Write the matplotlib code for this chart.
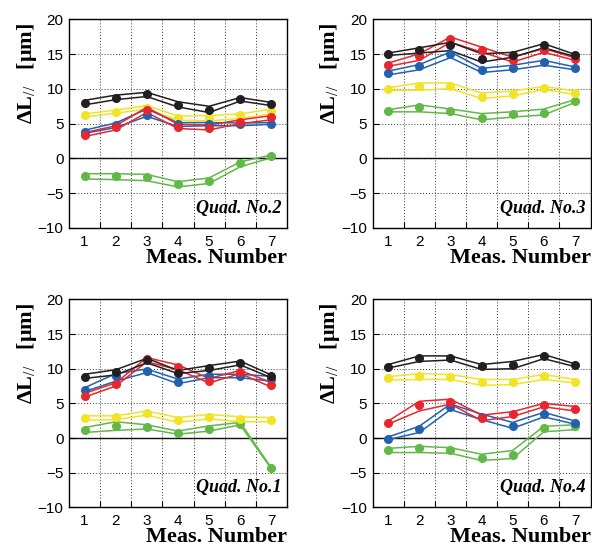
import matplotlib
matplotlib.use("Agg")
import matplotlib.pyplot as plt

plt.rcParams['font.family'] = ['Liberation Sans', 'DejaVu Sans']
plt.rcParams['mathtext.fontset'] = 'custom'
plt.rcParams['mathtext.rm'] = 'Liberation Serif'
plt.rcParams['mathtext.it'] = 'Liberation Serif:italic'
plt.rcParams['mathtext.bf'] = 'Liberation Serif:bold'

meas = [1, 2, 3, 4, 5, 6, 7]
x_labels = ["1", "2", "3", "4", "5", "6", "7"]
y_ticks = [-10, -5, 0, 5, 10, 15, 20]

# ---- Quad. No.2 ----
q2_black_pts = [7.9, 8.75, 9.2, 7.7, 7.0, 8.55, 7.8]
q2_black_hi = [8.35, 9.1, 9.5, 8.15, 7.5, 8.75, 8.05]
q2_black_lo = [7.7, 8.45, 8.9, 7.4, 6.6, 8.25, 7.6]
q2_red_pts = [3.4, 4.45, 6.9, 4.45, 4.35, 5.3, 5.9]
q2_red_hi = [3.7, 4.7, 7.35, 4.9, 4.8, 5.55, 6.15]
q2_red_lo = [3.15, 4.1, 6.6, 4.3, 4.1, 5.0, 5.55]
q2_blue_pts = [3.8, 4.8, 6.3, 4.9, 4.9, 4.9, 5.0]
q2_blue_hi = [4.05, 5.1, 7.1, 5.15, 5.15, 5.1, 5.15]
q2_blue_lo = [3.6, 4.45, 6.05, 4.6, 4.7, 4.7, 4.9]
q2_yellow_pts = [6.2, 6.7, 7.3, 5.85, 5.75, 6.2, 6.85]
q2_yellow_hi = [6.4, 6.95, 7.6, 6.1, 6.15, 6.4, 7.1]
q2_yellow_lo = [5.95, 6.5, 7.1, 5.5, 5.4, 5.75, 6.4]
q2_green_pts = [-2.5, -2.5, -2.7, -3.65, -3.3, -0.7, 0.35]
q2_green_hi = [-2.2, -2.2, -2.3, -3.35, -2.8, -0.5, 0.5]
q2_green_lo = [-2.95, -3.05, -3.2, -4.1, -3.6, -1.2, 0.1]

# ---- Quad. No.3 ----
q3_black_pts = [15.0, 15.6, 16.25, 14.3, 14.85, 16.25, 14.85]
q3_black_hi = [15.15, 15.9, 16.7, 15.05, 15.25, 16.5, 14.95]
q3_black_lo = [14.8, 15.15, 15.5, 13.85, 14.55, 15.9, 14.65]
q3_red_pts = [13.45, 14.75, 17.1, 15.6, 14.2, 15.55, 14.3]
q3_red_hi = [13.7, 15.05, 17.45, 16.0, 14.55, 15.8, 14.45]
q3_red_lo = [13.25, 14.1, 16.7, 15.3, 13.85, 15.25, 14.1]
q3_blue_pts = [12.25, 13.3, 14.95, 12.65, 13.05, 13.8, 12.95]
q3_blue_hi = [12.55, 13.5, 15.3, 12.95, 13.4, 14.1, 13.15]
q3_blue_lo = [12.0, 12.75, 14.5, 12.35, 12.75, 13.4, 12.75]
q3_yellow_pts = [9.95, 10.45, 10.45, 8.9, 9.3, 10.15, 9.4]
q3_yellow_hi = [10.15, 10.85, 10.85, 9.4, 9.7, 10.35, 9.7]
q3_yellow_lo = [9.8, 9.8, 10.05, 8.6, 9.0, 9.9, 9.2]
q3_green_pts = [6.85, 7.4, 6.75, 5.85, 6.4, 6.6, 8.25]
q3_green_hi = [7.0, 7.7, 7.1, 6.45, 6.7, 7.1, 8.45]
q3_green_lo = [6.7, 6.7, 6.45, 5.55, 5.95, 6.25, 8.05]

# ---- Quad. No.1 ----
q1_black_pts = [8.75, 9.55, 11.25, 9.4, 10.15, 10.85, 8.9]
q1_black_hi = [9.2, 9.85, 11.5, 9.75, 10.45, 11.1, 9.1]
q1_black_lo = [8.6, 9.1, 10.85, 9.3, 9.75, 10.55, 8.7]
q1_red_pts = [6.1, 7.75, 11.35, 10.25, 8.2, 9.55, 7.6]
q1_red_hi = [6.45, 7.95, 11.6, 10.55, 8.6, 9.75, 8.0]
q1_red_lo = [5.9, 7.5, 11.0, 9.85, 7.95, 9.3, 7.35]
q1_blue_pts = [6.95, 8.9, 9.7, 8.15, 9.0, 8.9, 8.5]
q1_blue_hi = [7.25, 9.3, 9.95, 8.5, 9.2, 9.2, 8.9]
q1_blue_lo = [6.7, 8.2, 9.45, 7.85, 8.7, 8.7, 8.2]
q1_yellow_pts = [2.85, 3.0, 3.6, 2.55, 3.1, 2.7, 2.6]
q1_yellow_hi = [3.2, 3.2, 3.9, 2.95, 3.4, 3.05, 2.95]
q1_yellow_lo = [2.55, 2.65, 3.3, 2.25, 2.75, 2.35, 2.35]
q1_green_pts = [1.15, 1.75, 1.65, 0.7, 1.3, 2.05, -4.35]
q1_green_hi = [1.5, 2.35, 1.9, 1.0, 1.75, 2.25, -4.3]
q1_green_lo = [0.8, 1.1, 1.3, 0.55, 1.0, 1.9, -4.45]

# ---- Quad. No.4 ----
q4_black_pts = [10.3, 11.6, 11.6, 10.4, 10.55, 11.85, 10.5]
q4_black_hi = [10.6, 11.85, 11.85, 10.6, 11.05, 12.05, 10.7]
q4_black_lo = [10.1, 11.05, 11.25, 9.9, 10.0, 11.45, 10.3]
q4_red_pts = [2.2, 4.8, 5.25, 2.95, 3.45, 4.8, 4.15]
q4_red_hi = [2.45, 5.3, 5.6, 3.3, 3.8, 5.0, 4.55]
q4_red_lo = [2.0, 3.9, 4.9, 2.5, 3.1, 4.5, 3.9]
q4_blue_pts = [-0.1, 1.3, 4.45, 3.1, 1.75, 3.45, 2.15]
q4_blue_hi = [0.15, 1.7, 4.9, 3.45, 2.25, 3.7, 2.45]
q4_blue_lo = [-0.25, 0.8, 4.1, 2.65, 1.4, 3.05, 2.0]
q4_yellow_pts = [8.6, 9.0, 8.8, 8.1, 8.05, 8.9, 8.15]
q4_yellow_hi = [8.85, 9.3, 9.15, 8.45, 8.45, 9.15, 8.45]
q4_yellow_lo = [8.35, 8.45, 8.45, 7.6, 7.7, 8.45, 7.95]
q4_green_pts = [-1.8, -1.5, -1.8, -2.85, -2.45, 1.5, 1.7]
q4_green_hi = [-1.5, -1.2, -1.4, -2.35, -1.8, 1.7, 1.9]
q4_green_lo = [-2.1, -2.1, -2.2, -3.25, -2.95, 0.9, 1.2]

colors = {"black": "#231f20", "red": "#e8262d", "blue": "#2260b0",
          "yellow": "#f1e426", "green": "#62b847"}

panels = [
    ("Quad. No.2", [0.1166, 0.5832, 0.368, 0.3815],
     {"black": (q2_black_pts, q2_black_hi, q2_black_lo),
      "red": (q2_red_pts, q2_red_hi, q2_red_lo),
      "blue": (q2_blue_pts, q2_blue_hi, q2_blue_lo),
      "yellow": (q2_yellow_pts, q2_yellow_hi, q2_yellow_lo),
      "green": (q2_green_pts, q2_green_hi, q2_green_lo)}),
    ("Quad. No.3", [0.6295, 0.5832, 0.368, 0.3815],
     {"black": (q3_black_pts, q3_black_hi, q3_black_lo),
      "red": (q3_red_pts, q3_red_hi, q3_red_lo),
      "blue": (q3_blue_pts, q3_blue_hi, q3_blue_lo),
      "yellow": (q3_yellow_pts, q3_yellow_hi, q3_yellow_lo),
      "green": (q3_green_pts, q3_green_hi, q3_green_lo)}),
    ("Quad. No.1", [0.1166, 0.0726, 0.368, 0.380],
     {"black": (q1_black_pts, q1_black_hi, q1_black_lo),
      "red": (q1_red_pts, q1_red_hi, q1_red_lo),
      "blue": (q1_blue_pts, q1_blue_hi, q1_blue_lo),
      "yellow": (q1_yellow_pts, q1_yellow_hi, q1_yellow_lo),
      "green": (q1_green_pts, q1_green_hi, q1_green_lo)}),
    ("Quad. No.4", [0.6295, 0.0726, 0.368, 0.380],
     {"black": (q4_black_pts, q4_black_hi, q4_black_lo),
      "red": (q4_red_pts, q4_red_hi, q4_red_lo),
      "blue": (q4_blue_pts, q4_blue_hi, q4_blue_lo),
      "yellow": (q4_yellow_pts, q4_yellow_hi, q4_yellow_lo),
      "green": (q4_green_pts, q4_green_hi, q4_green_lo)}),
]

fig = plt.figure(figsize=(5.92, 5.47), dpi=100)

for title, rect, series in panels:
    ax = fig.add_axes(rect)
    ax.set_xlim(0.5, 7.5)
    ax.set_ylim(-10, 20)
    ax.set_xticks(meas)
    ax.set_xticklabels(x_labels)
    ax.set_xticks([1.5, 2.5, 3.5, 4.5, 5.5, 6.5], minor=True)
    ax.set_yticks(y_ticks)
    ax.tick_params(axis='x', which='major', length=0, pad=5, labelsize=11)
    ax.tick_params(axis='x', which='minor', direction='in', length=4, width=0.8)
    ax.tick_params(axis='y', which='major', direction='in', length=4, width=0.8,
                   pad=4, labelsize=11)
    ax.grid(True, axis='x', which='minor', linestyle=(0, (1, 2)), color='#333333',
            linewidth=0.7)
    ax.grid(True, axis='y', which='major', linestyle=(0, (1, 2)), color='#333333',
            linewidth=0.7)
    ax.axhline(0, color='black', linewidth=1.0, zorder=1.5)
    for sp in ax.spines.values():
        sp.set_linewidth(1.0)
    for cname in ["green", "yellow", "blue", "red", "black"]:
        pts, hi, lo = series[cname]
        c = colors[cname]
        ax.plot(meas, hi, color=c, linewidth=1.1, zorder=3)
        ax.plot(meas, lo, color=c, linewidth=1.1, zorder=3)
        ax.plot(meas, pts, linestyle='none', marker='o', markersize=5.5,
                color=c, zorder=4)
    ax.text(0.977, 0.072, title, transform=ax.transAxes, ha='right',
            va='baseline', family='Liberation Serif', fontweight='bold',
            fontstyle='italic', fontsize=13)
    ax.text(1.0, -0.095, "Meas. Number", transform=ax.transAxes, ha='right',
            va='top', family='Liberation Serif', fontweight='bold', fontsize=16)
    ax.text(-0.195, 0.985, "ΔL$_{//}$   [μm]", transform=ax.transAxes,
            rotation=90, ha='center', va='top', family='Liberation Serif',
            fontweight='bold', fontsize=16)

fig.savefig("out.png", dpi=100)
